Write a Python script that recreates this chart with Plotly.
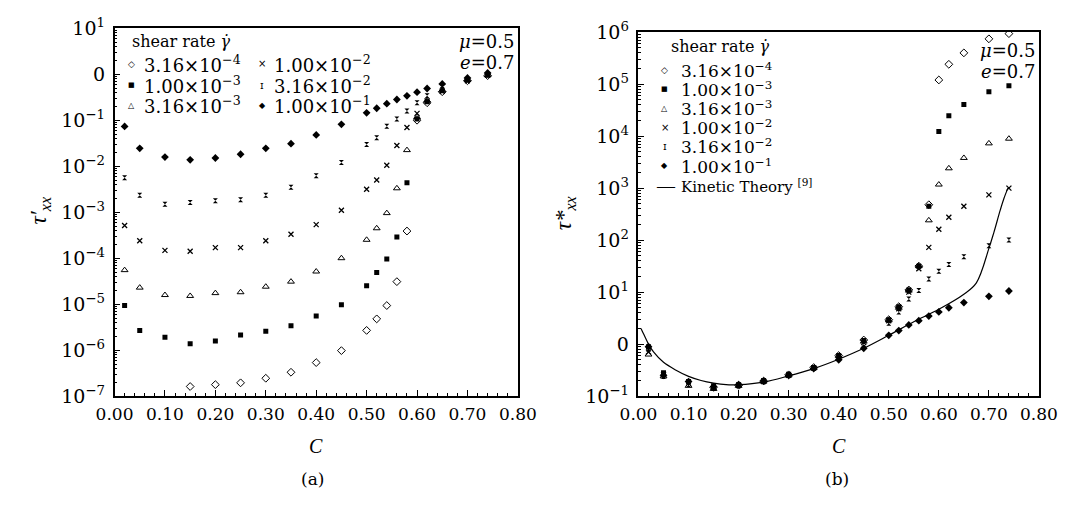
import numpy as np
import plotly.graph_objects as go

# ---------------- data ----------------
C = [0.02, 0.05, 0.10, 0.15, 0.20, 0.25, 0.30, 0.35, 0.40, 0.45,
     0.50, 0.52, 0.54, 0.56, 0.58, 0.60, 0.62, 0.65, 0.70, 0.74]

rate_labels = ["3.16×10<sup>−4</sup>", "1.00×10<sup>−3</sup>", "3.16×10<sup>−3</sup>",
               "1.00×10<sup>−2</sup>", "3.16×10<sup>−2</sup>", "1.00×10<sup>−1</sup>"]

# panel (a): tau'_xx
a_316e4 = [None, None, None, 1.62e-7, 1.78e-7, 1.95e-7, 2.45e-7, 3.31e-7, 5.37e-7, 9.77e-7,
           2.69e-6, 4.79e-6, 9.33e-6, 3.09e-5, 3.89e-4, 0.100, 0.240, 0.417, 0.724, 0.933]
a_100e3 = [9.33e-6, 2.69e-6, 1.91e-6, 1.38e-6, 1.58e-6, 2.14e-6, 2.57e-6, 3.39e-6, 5.50e-6, 9.77e-6,
           2.51e-5, 4.90e-5, 9.55e-5, 2.88e-4, 4.37e-3, 0.107, 0.251, 0.437, 0.741, 0.955]
a_316e3 = [5.50e-5, 2.29e-5, 1.58e-5, 1.51e-5, 1.74e-5, 1.82e-5, 2.40e-5, 3.09e-5, 5.13e-5, 1.00e-4,
           2.51e-4, 4.47e-4, 9.55e-4, 3.31e-3, 2.24e-2, 0.117, 0.269, 0.447, 0.759, 0.955]
a_100e2 = [5.13e-4, 2.40e-4, 1.48e-4, 1.41e-4, 1.70e-4, 1.70e-4, 2.40e-4, 3.31e-4, 5.37e-4, 1.10e-3,
           3.16e-3, 5.01e-3, 1.05e-2, 2.82e-2, 6.92e-2, 0.141, 0.263, 0.427, 0.724, 0.955]
a_316e2 = [5.62e-3, 2.34e-3, 1.48e-3, 1.62e-3, 1.78e-3, 1.86e-3, 2.34e-3, 3.47e-3, 6.17e-3, 1.20e-2,
           2.95e-2, 4.17e-2, 7.41e-2, 0.107, 0.158, 0.240, 0.339, 0.468, 0.759, 0.977]
a_100e1 = [7.33e-2, 2.45e-2, 1.58e-2, 1.38e-2, 1.51e-2, 1.82e-2, 2.45e-2, 3.09e-2, 4.79e-2, 8.13e-2,
           0.145, 0.182, 0.229, 0.282, 0.339, 0.407, 0.490, 0.617, 0.832, 1.07]

# panel (b): tau*_xx
b_316e4 = [None, None, None, 0.148, 0.162, 0.195, 0.257, 0.355, 0.603, 1.20,
           2.95, 5.25, 11.0, 31.6, 479, 1.20e5, 2.40e5, 3.98e5, 7.41e5, 9.33e5]
b_100e3 = [0.891, 0.282, 0.191, 0.158, 0.166, 0.200, 0.263, 0.355, 0.603, 1.17,
           2.95, 5.25, 11.0, 31.6, 447, 1.23e4, 2.45e4, 4.07e4, 7.08e4, 9.33e4]
b_316e3 = [0.631, 0.240, 0.158, 0.138, 0.158, 0.191, 0.251, 0.347, 0.589, 1.12,
           2.88, 5.01, 10.7, 31.6, 240, 1.17e3, 2.40e3, 3.80e3, 7.24e3, 8.91e3]
b_100e2 = [0.708, 0.263, 0.178, 0.145, 0.162, 0.191, 0.251, 0.347, 0.562, 1.07,
           2.82, 4.79, 10.0, 28.2, 72.4, 162, 275, 447, 741, 1.00e3]
b_316e2 = [0.794, 0.240, 0.166, 0.141, 0.158, 0.191, 0.251, 0.339, 0.562, 1.00,
           2.51, 4.17, 7.41, 10.7, 17.8, 25.1, 33.9, 47.9, 77.6, 100]
b_100e1 = [0.891, 0.251, 0.191, 0.151, 0.166, 0.195, 0.251, 0.339, 0.501, 0.832,
           1.48, 1.82, 2.34, 2.82, 3.47, 4.17, 5.01, 6.31, 8.32, 10.5]

# kinetic theory curve (panel b)
kt_C = [0.005, 0.01, 0.02, 0.03, 0.05, 0.075, 0.10, 0.125, 0.15, 0.175, 0.20, 0.25,
        0.30, 0.35, 0.40, 0.45, 0.50, 0.55, 0.60, 0.65, 0.675, 0.70, 0.71, 0.7225, 0.73, 0.738]
kt_tau = [2.00, 1.58, 1.00, 0.708, 0.447, 0.316, 0.240, 0.200, 0.178, 0.166, 0.166, 0.186,
          0.245, 0.339, 0.513, 0.832, 1.48, 2.69, 4.68, 9.12, 15.1, 69.2, 141, 372, 631, 1000]

x_ticks = [0.0, 0.1, 0.2, 0.3, 0.4, 0.5, 0.6, 0.7, 0.8]
x_ticktext = ["0.00", "0.10", "0.20", "0.30", "0.40", "0.50", "0.60", "0.70", "0.80"]
a_yticks = [1e1, 1e0, 1e-1, 1e-2, 1e-3, 1e-4, 1e-5, 1e-6, 1e-7]
a_yticktext = ["10<sup>1</sup>", "0", "10<sup>−1</sup>", "10<sup>−2</sup>", "10<sup>−3</sup>",
               "10<sup>−4</sup>", "10<sup>−5</sup>", "10<sup>−6</sup>", "10<sup>−7</sup>"]
b_yticks = [1e6, 1e5, 1e4, 1e3, 1e2, 1e1, 1e0, 1e-1]
b_yticktext = ["10<sup>6</sup>", "10<sup>5</sup>", "10<sup>4</sup>", "10<sup>3</sup>",
               "10<sup>2</sup>", "10<sup>1</sup>", "0", "10<sup>−1</sup>"]

# ---------------- styling ----------------
FONT = "DejaVu Serif, Liberation Serif, serif"
IFONT = "Liberation Serif, serif"
GFONT = "DejaVu Sans"
styles = [
    dict(symbol="diamond-open", size=6, line=dict(width=1, color="black")),
    dict(symbol="square", size=5, line=dict(width=0)),
    dict(symbol="triangle-up-open", size=6, line=dict(width=1, color="black")),
    dict(symbol="x-thin", size=5, line=dict(width=1.3, color="black")),
    dict(symbol="hourglass", size=5, line=dict(width=0)),
    dict(symbol="diamond", size=6, line=dict(width=0)),
]
# legend glyphs (text) matching the marker styles
glyphs = [("◇", 9), ("■", 7), ("△", 8), ("×", 10), ("ɪ", 10), ("◆", 8)]

a_series = [a_316e4, a_100e3, a_316e3, a_100e2, a_316e2, a_100e1]
b_series = [b_316e4, b_100e3, b_316e3, b_100e2, b_316e2, b_100e1]

fig = go.Figure()
for i, (lab, ys) in enumerate(zip(rate_labels, a_series)):
    fig.add_trace(go.Scatter(
        x=C, y=ys, mode="markers", name=lab, xaxis="x", yaxis="y",
        marker=dict(color="black", **styles[i]), showlegend=False))
for i, (lab, ys) in enumerate(zip(rate_labels, b_series)):
    fig.add_trace(go.Scatter(
        x=C, y=ys, mode="markers", name=lab, xaxis="x2", yaxis="y2",
        marker=dict(color="black", **styles[i]), showlegend=False))
fig.add_trace(go.Scatter(
    x=kt_C, y=kt_tau, mode="lines", name="Kinetic Theory",
    xaxis="x2", yaxis="y2", line=dict(color="black", width=1.2, shape="spline"),
    showlegend=False))


def minor_log(lo, hi):
    vals = []
    for d in range(lo, hi):
        for m in range(2, 10):
            vals.append(m * 10.0 ** d)
    return vals


W, H = 1084, 512
axis_common = dict(showline=True, linecolor="black", linewidth=1.5, mirror=True,
                   ticks="inside", tickcolor="black", showgrid=False, zeroline=False)

xa = dict(axis_common, range=[0, 0.8], tickmode="array", tickvals=x_ticks, ticktext=x_ticktext,
          ticklen=6, tickfont=dict(family=FONT, size=17, color="black"), ticklabelstandoff=2,
          minor=dict(ticks="inside", ticklen=3, dtick=0.02, tickcolor="black"))
yfont = dict(family=FONT, size=19, color="black")

fig.update_layout(
    width=W, height=H, margin=dict(l=0, r=0, t=0, b=0),
    paper_bgcolor="white", plot_bgcolor="white", showlegend=False,
    font=dict(family=FONT, size=16, color="black"),
    xaxis=dict(xa, domain=[99 / W, 517 / W], anchor="y"),
    yaxis=dict(axis_common, type="log", range=[-7, 1], domain=[1 - 402 / H, 1 - 16 / H],
               anchor="x", tickmode="array", tickvals=a_yticks, ticktext=a_yticktext, ticklen=6,
               tickfont=yfont, ticklabelstandoff=4,
               minor=dict(ticks="inside", ticklen=3, tickvals=minor_log(-7, 1), tickcolor="black")),
    xaxis2=dict(xa, domain=[642 / W, 1057 / W], anchor="y2"),
    yaxis2=dict(axis_common, type="log", range=[-1, 6], domain=[1 - 402 / H, 1 - 20 / H],
                anchor="x2", tickmode="array", tickvals=b_yticks, ticktext=b_yticktext, ticklen=6,
                tickfont=yfont, ticklabelstandoff=4,
                minor=dict(ticks="inside", ticklen=3, tickvals=minor_log(-1, 6), tickcolor="black")),
)

ann = []
def txt(x, y, s, size=16, xanchor="center", angle=0, family=FONT):
    ann.append(dict(x=x / W, y=1 - y / H, xref="paper", yref="paper", text=s, showarrow=False,
                    xanchor=xanchor, yanchor="middle", textangle=angle,
                    font=dict(family=family, size=size, color="black")))

# ---- legend, panel (a) (two columns) ----
txt(115, 30, "shear rate <i>γ̇</i>", 16, "left")
rows_a = [53, 76, 97]
for i in range(6):
    col = i // 3
    r = rows_a[i % 3]
    gx = 117 if col == 0 else 252
    tx = 127 if col == 0 else 262
    g, gs = glyphs[i]
    txt(gx, r, g, gs, "center", family=GFONT)
    txt(tx, r, rate_labels[i], 18, "left")

# ---- legend, panel (b) (one column) ----
txt(674, 35, "shear rate <i>γ̇</i>", 16, "left")
rows_b = [60, 80, 100, 120, 140, 160]
for i in range(6):
    g, gs = glyphs[i]
    txt(669, rows_b[i], g, gs, "center", family=GFONT)
    txt(684, rows_b[i], rate_labels[i], 17, "left")
txt(670, 182, "—", 18, "center", family=IFONT)
txt(684, 182, "Kinetic Theory <sup>[9]</sup>", 15, "left")

txt(515, 30, "<i>μ</i>=0.5", 18, "right")
txt(515, 52, "<i>e</i>=0.7", 18, "right")
txt(1055, 39, "<i>μ</i>=0.5", 18, "right")
txt(1055, 61, "<i>e</i>=0.7", 18, "right")
txt(22, 207, "<i>τ′<sub>xx</sub></i>", 23, angle=-90, family=IFONT)
txt(566, 210, "<i>τ*<sub>xx</sub></i>", 23, angle=-90, family=IFONT)
txt(308, 454, "<i>C</i>", 20, family=IFONT)
txt(850, 454, "<i>C</i>", 20, family=IFONT)
txt(304, 489, "(a)", 17)
txt(848, 489, "(b)", 17)
fig.update_layout(annotations=ann)

fig.write_html("out.html")
